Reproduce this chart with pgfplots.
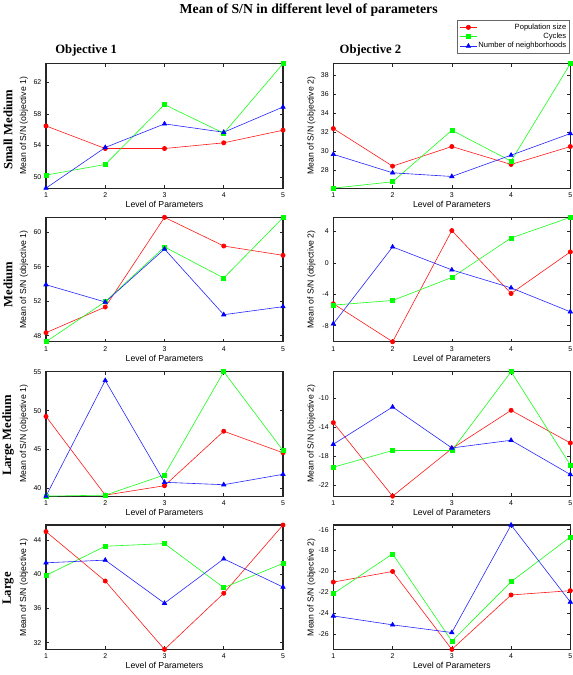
\documentclass[border=0pt]{standalone}
\usepackage{fontspec}
\setmainfont{Liberation Serif}
\setsansfont{Liberation Sans}
\usepackage{pgfplots}
\usepackage{pgfplotstable}
\pgfplotsset{compat=1.18}

\pgfplotstableread{
x r g b
1 56.48 50.25 48.60
2 53.62 51.60 53.75
3 53.62 59.18 56.74
4 54.34 55.56 55.68
5 55.94 64.36 58.88
}\tA
\pgfplotstableread{
x r g b
1 32.39 26.10 29.67
2 28.42 26.77 27.72
3 30.49 32.21 27.33
4 28.60 28.95 29.58
5 30.49 39.23 31.86
}\tB
\pgfplotstableread{
x r g b
1 48.35 47.30 53.92
2 51.33 51.95 51.91
3 61.74 58.30 58.06
4 58.41 54.70 50.44
5 57.33 61.70 51.37
}\tC
\pgfplotstableread{
x r g b
1 -5.20 -5.37 -7.75
2 -10.04 -4.78 2.05
3 4.13 -1.85 -0.88
4 -3.89 3.19 -3.17
5 1.41 5.82 -6.22
}\tD
\pgfplotstableread{
x r g b
1 49.25 39.00 39.00
2 39.13 39.13 53.88
3 40.34 41.73 40.78
4 47.35 55.00 40.47
5 44.58 44.88 41.81
}\tE
\pgfplotstableread{
x r g b
1 -13.40 -19.56 -16.39
2 -23.56 -17.26 -11.24
3 -16.99 -17.26 -16.90
4 -11.70 -6.37 -15.84
5 -16.21 -19.24 -20.57
}\tF
\pgfplotstableread{
x r g b
1 44.97 39.86 41.33
2 39.20 43.26 41.64
3 31.22 43.57 36.61
4 37.77 38.43 41.79
5 45.74 41.25 38.50
}\tG
\pgfplotstableread{
x r g b
1 -21.00 -22.11 -24.23
2 -19.99 -18.31 -25.08
3 -27.42 -26.63 -25.81
4 -22.23 -20.97 -15.56
5 -21.82 -16.70 -22.90
}\tH

\newcommand\bigfont{\fontsize{9.5}{11}\selectfont\bfseries}
\pgfplotsset{
  panel/.style={
    scale only axis, width=177.75pt, height=93.3pt,
    anchor=north west,
    xmin=1, xmax=5, xtick={1,2,3,4,5},
    clip=false,
    tick align=inside,
    axis line style={line width=0.8pt, black!85},
    every tick/.style={black!85, line width=0.5pt},
    major tick length=2.2pt,
    /pgf/number format/assume math mode=true,
    scaled ticks=false,
    tick label style={font=\sffamily\fontsize{5.2}{6}\selectfont},
    label style={font=\sffamily\fontsize{6.5}{7.5}\selectfont},
    xlabel={Level of Parameters},
    xlabel style={at={(rel axis cs:0.5,-0.131)}, anchor=center},
    ylabel style={at={(rel axis cs:-0.093,0.5)}, anchor=center},
    legend image code/.code={\draw[mark repeat=2,mark phase=2,##1] plot coordinates {(0cm,0cm) (0.22cm,0cm) (0.44cm,0cm)};},
  },
  rs/.style={red!90, line width=0.45pt, mark=*, mark size=1.6pt, mark options={solid, fill=red, draw=red}},
  gs/.style={green!90, line width=0.45pt, mark=square*, mark size=1.5pt, mark options={solid, fill=green, draw=green}},
  bs/.style={blue!85, line width=0.45pt, mark=triangle*, mark size=1.9pt, mark options={solid, fill=blue, draw=blue}},
}

\begin{document}
\begin{tikzpicture}
\path[use as bounding box] (0pt,0pt) rectangle (429pt,-506.25pt);

\node[anchor=base, font=\fontsize{10.3}{12}\selectfont\bfseries] at (231.5pt,-10pt) {Mean of S/N in different level of parameters};
\node[anchor=base west, font=\bigfont] at (38pt,-40.1pt) {Objective 1};
\node[anchor=base west, font=\bigfont] at (251.2pt,-40.1pt) {Objective 2};

% Row 1
\begin{axis}[panel, at={(34.5pt,-47.8pt)}, ymin=48.6, ymax=64.36, ytick={50,54,58,62},
  ylabel={Mean of S/N (objective 1)}]
\addplot[rs] table[x=x,y=r]{\tA};
\addplot[gs] table[x=x,y=g]{\tA};
\addplot[bs] table[x=x,y=b]{\tA};
\node[rotate=90, font=\bigfont] at (rel axis cs:-0.160,0.47) {Small Medium};
\end{axis}
\begin{axis}[panel, at={(250pt,-47.8pt)}, ymin=26.1, ymax=39.23, ytick={28,30,32,34,36,38},
  ylabel={Mean of S/N (objective 2)},
  legend style={at={(0.998,1.3516)}, anchor=north east, font=\sffamily\fontsize{5.7}{6.3}\selectfont,
    draw=black!60, inner sep=1.5pt, row sep=-0.6pt, nodes={inner sep=1pt}},
  legend cell align=right]
\addplot[rs] table[x=x,y=r]{\tB};
\addplot[gs] table[x=x,y=g]{\tB};
\addplot[bs] table[x=x,y=b]{\tB};
\legend{Population size, Cycles, Number of neighborhoods}
\end{axis}

% Row 2
\begin{axis}[panel, at={(34.5pt,-163pt)}, ymin=47.3, ymax=61.74, ytick={48,52,56,60},
  ylabel={Mean of S/N (objective 1)}]
\addplot[rs] table[x=x,y=r]{\tC};
\addplot[gs] table[x=x,y=g]{\tC};
\addplot[bs] table[x=x,y=b]{\tC};
\node[rotate=90, font=\bigfont] at (rel axis cs:-0.160,0.46) {Medium};
\end{axis}
\begin{axis}[panel, at={(250pt,-163pt)}, ymin=-10.04, ymax=5.82, ytick={-8,-4,0,4},
  ylabel={Mean of S/N (objective 2)}]
\addplot[rs] table[x=x,y=r]{\tD};
\addplot[gs] table[x=x,y=g]{\tD};
\addplot[bs] table[x=x,y=b]{\tD};
\end{axis}

% Row 3
\begin{axis}[panel, at={(34.5pt,-278.8pt)}, ymin=39.0, ymax=55.0, ytick={40,45,50,55},
  ylabel={Mean of S/N (objective 1)}]
\addplot[rs] table[x=x,y=r]{\tE};
\addplot[gs] table[x=x,y=g]{\tE};
\addplot[bs] table[x=x,y=b]{\tE};
\node[rotate=90, font=\bigfont] at (rel axis cs:-0.160,0.49) {Large Medium};
\end{axis}
\begin{axis}[panel, at={(250pt,-278.8pt)}, ymin=-23.56, ymax=-6.37, ytick={-22,-18,-14,-10},
  ylabel={Mean of S/N (objective 2)}]
\addplot[rs] table[x=x,y=r]{\tF};
\addplot[gs] table[x=x,y=g]{\tF};
\addplot[bs] table[x=x,y=b]{\tF};
\end{axis}

% Row 4
\begin{axis}[panel, at={(34.5pt,-393.75pt)}, ymin=31.22, ymax=45.74, ytick={32,36,40,44},
  ylabel={Mean of S/N (objective 1)}]
\addplot[rs] table[x=x,y=r]{\tG};
\addplot[gs] table[x=x,y=g]{\tG};
\addplot[bs] table[x=x,y=b]{\tG};
\node[rotate=90, font=\bigfont] at (rel axis cs:-0.160,0.49) {Large};
\end{axis}
\begin{axis}[panel, at={(250pt,-393.75pt)}, ymin=-27.42, ymax=-15.56, ytick={-26,-24,-22,-20,-18,-16},
  ylabel={Mean of S/N (objective 2)}]
\addplot[rs] table[x=x,y=r]{\tH};
\addplot[gs] table[x=x,y=g]{\tH};
\addplot[bs] table[x=x,y=b]{\tH};
\end{axis}
\end{tikzpicture}
\end{document}
